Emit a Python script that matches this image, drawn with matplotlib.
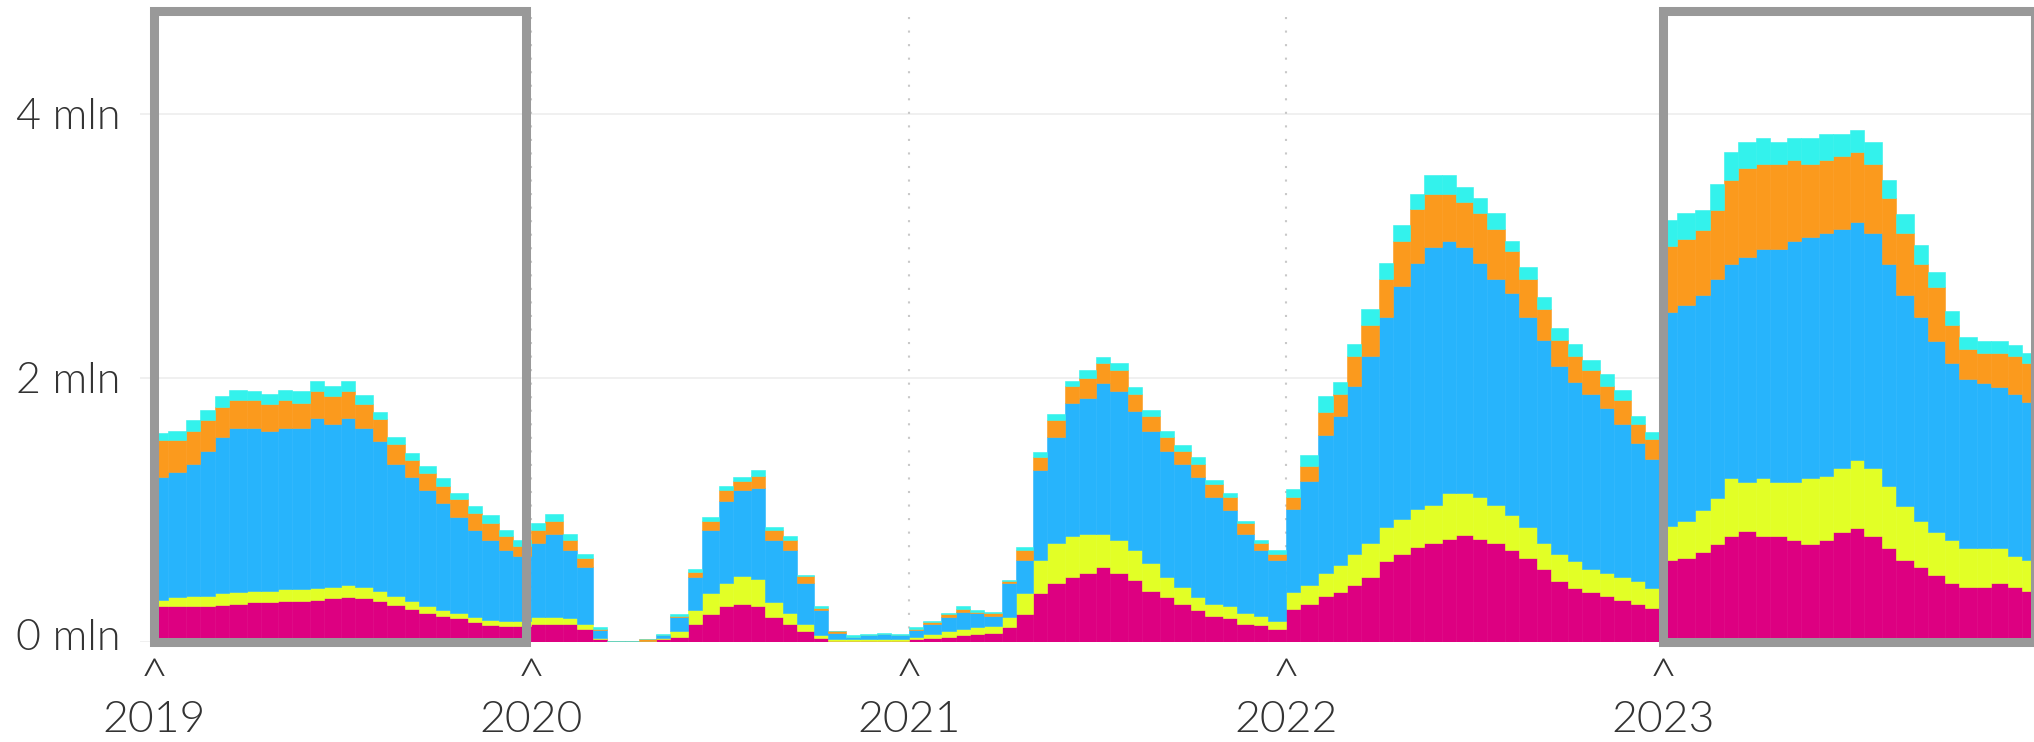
import numpy as np
import pandas as pd
import matplotlib
matplotlib.use("Agg")
import matplotlib.pyplot as plt
import matplotlib.dates as mdates
import matplotlib.transforms as mtransforms
from matplotlib.patches import Rectangle

# half-month periods (1st and 15th of each month), 2019 .. 2023, values in mln
periods = pd.date_range("2019-01-01", "2023-12-15", freq="SMS")

pink = [
    .27, .27, .27, .27, .28, .29, .30, .30, .31, .31, .32, .33, .34, .33, .31, .28, .25, .22, .20, .18, .15, .13, .12, .12,
    .14, .14, .14, .10, .02, .00, .00, .00, .02, .04, .14, .21, .27, .29, .27, .19, .14, .08, .03, .01, .01, .01, .01, .01,
    .02, .03, .04, .05, .06, .07, .11, .21, .37, .45, .49, .52, .57, .52, .47, .39, .34, .29, .24, .20, .18, .14, .13, .10,
    .25, .29, .35, .38, .43, .49, .61, .67, .72, .75, .78, .81, .78, .75, .70, .64, .55, .46, .41, .38, .35, .32, .29, .26,
    .62, .64, .68, .74, .80, .84, .80, .80, .77, .74, .77, .83, .86, .80, .71, .62, .57, .51, .45, .42, .42, .45, .42, .39,
]
yellow = [
    .05, .07, .08, .08, .09, .09, .09, .09, .09, .09, .09, .09, .09, .09, .08, .07, .06, .05, .04, .04, .04, .04, .04, .04,
    .05, .05, .04, .04, .01, .00, .00, .01, .01, .04, .10, .16, .18, .21, .21, .11, .08, .06, .02, .01, .01, .01, .01, .01,
    .02, .03, .04, .05, .05, .05, .08, .16, .25, .30, .31, .30, .25, .25, .23, .21, .15, .13, .10, .09, .09, .08, .07, .06,
    .13, .14, .17, .20, .24, .26, .26, .26, .29, .29, .35, .32, .32, .29, .26, .23, .20, .21, .20, .17, .17, .17, .17, .15,
    .26, .28, .32, .35, .44, .37, .44, .41, .44, .50, .49, .49, .52, .52, .47, .41, .35, .32, .32, .29, .29, .26, .23, .23,
]
blue = [
    .93, .95, 1.00, 1.10, 1.18, 1.24, 1.23, 1.21, 1.22, 1.22, 1.29, 1.23, 1.27, 1.20, 1.13, 1.00, .94, .88, .81, .73, .66, .60, .54, .49,
    .56, .63, .52, .43, .06, .01, .01, .00, .02, .11, .25, .48, .62, .65, .69, .47, .48, .31, .19, .05, .02, .03, .04, .03,
    .05, .08, .11, .13, .11, .08, .26, .25, .68, .80, 1.01, 1.03, 1.14, 1.13, 1.05, 1.00, .96, .93, .91, .81, .73, .60, .50, .46,
    .63, .79, 1.05, 1.13, 1.27, 1.42, 1.59, 1.77, 1.86, 1.95, 1.91, 1.86, 1.77, 1.71, 1.68, 1.59, 1.54, 1.42, 1.36, 1.33, 1.25, 1.16, 1.05, .98,
    1.62, 1.63, 1.63, 1.66, 1.62, 1.71, 1.74, 1.77, 1.83, 1.83, 1.84, 1.81, 1.80, 1.78, 1.68, 1.60, 1.54, 1.45, 1.34, 1.28, 1.25, 1.22, 1.23, 1.20,
]
orange = [
    .28, .24, .25, .23, .23, .21, .21, .20, .21, .19, .20, .21, .20, .18, .17, .15, .13, .13, .13, .13, .13, .13, .10, .08,
    .10, .10, .07, .07, .01, .00, .00, .01, .00, .01, .04, .07, .08, .07, .09, .08, .07, .05, .02, .01, .00, .00, .00, .00,
    .01, .01, .02, .02, .01, .02, .01, .08, .10, .13, .13, .15, .15, .16, .13, .11, .10, .10, .10, .10, .10, .08, .05, .05,
    .09, .11, .17, .17, .23, .23, .29, .34, .41, .40, .35, .34, .38, .38, .32, .29, .23, .20, .20, .18, .17, .18, .14, .15,
    .50, .50, .49, .52, .64, .67, .64, .64, .61, .55, .55, .55, .53, .52, .50, .47, .40, .41, .29, .23, .23, .26, .29, .29,
]
cyan = [
    .05, .07, .08, .08, .08, .08, .07, .08, .08, .09, .08, .08, .08, .07, .05, .05, .05, .05, .06, .05, .05, .06, .05, .04,
    .05, .05, .05, .03, .01, .00, .00, .00, .01, .01, .02, .03, .03, .03, .04, .02, .03, .01, .01, .00, .01, .01, .01, .01,
    .01, .01, .01, .02, .01, .01, .01, .02, .04, .05, .04, .06, .05, .05, .05, .05, .05, .04, .05, .03, .03, .02, .02, .03,
    .06, .09, .12, .09, .09, .12, .12, .12, .11, .15, .15, .12, .11, .12, .08, .09, .09, .09, .09, .08, .09, .08, .06, .05,
    .20, .20, .15, .20, .21, .20, .20, .17, .17, .20, .20, .17, .17, .17, .14, .14, .15, .11, .11, .09, .09, .09, .08, .08,
]

layers = [pink, yellow, blue, orange, cyan]
colors = ["#dd0081", "#e2ff26", "#27b4fc", "#fb9a1d", "#33f2ec"]

years = [2019, 2020, 2021, 2022, 2023]
highlight_years = [2019, 2023]
y_ticks = [0, 2, 4]

plt.rcParams["font.family"] = ["Lato", "DejaVu Sans"]
text_color = "#333333"

fig = plt.figure(figsize=(20.34, 7.42), dpi=100)
ax = fig.add_axes([140 / 2034, 100 / 742, 1894 / 2034, 631 / 742])

x = mdates.date2num(periods)
edges = np.append(x, mdates.date2num(pd.Timestamp("2024-01-01")))
widths = np.diff(edges)

bottom = np.zeros(len(x))
for vals, col in zip(layers, colors):
    vals = np.array(vals)
    ax.bar(x, vals, width=widths, bottom=bottom, align="edge",
           color=col, edgecolor=col, linewidth=0.4, zorder=2)
    bottom += vals

# axis ranges
x0 = mdates.date2num(pd.Timestamp("2019-01-01"))
px_per_day = 377 / 365.0
ax.set_xlim(x0 - 14 / px_per_day, x0 + (2034 - 154) / px_per_day)
ax.set_ylim(0, 4.78)

for s in ax.spines.values():
    s.set_visible(False)
ax.set_xticks([])
ax.set_yticks([])

# horizontal grid
for v in y_ticks:
    ax.axhline(v, color="#eeeeee", lw=1.2, zorder=1)

# dotted year separators
for yr in years[1:]:
    ax.axvline(mdates.date2num(pd.Timestamp(f"{yr}-01-01")), color="#c8c8c8",
               lw=1.5, linestyle=(0, (1, 5.5)), zorder=1)

# highlight boxes
for yr in highlight_years:
    a = mdates.date2num(pd.Timestamp(f"{yr}-01-01"))
    b = mdates.date2num(pd.Timestamp(f"{yr}-12-27"))
    ax.add_patch(Rectangle((a, 0), b - a, 4.78, fill=False, edgecolor="#999999",
                           lw=6.5, zorder=5, clip_on=False, joinstyle="miter"))

# y labels (the bottom one sits a little above the baseline)
tr_y = mtransforms.blended_transform_factory(fig.transFigure, ax.transData)
for v in y_ticks:
    tr = tr_y
    if v == 0:
        tr = tr_y + mtransforms.ScaledTranslation(0, 7 / 100, fig.dpi_scale_trans)
    ax.text(16 / 2034, v, f"{v} mln", transform=tr, ha="left", va="center_baseline",
            fontsize=31, color=text_color, fontweight=300)

# x labels with caret marks
tr_x = mtransforms.blended_transform_factory(ax.transData, fig.transFigure)
for yr in years:
    xd = mdates.date2num(pd.Timestamp(f"{yr}-01-01"))
    ax.text(xd, (742 - 680) / 742, "^", transform=tr_x, ha="center", va="center",
            fontsize=36, color=text_color, fontweight=300)
    ax.text(xd, (742 - 720) / 742, str(yr), transform=tr_x, ha="center", va="center",
            fontsize=32, color=text_color, fontweight=300)

fig.savefig("out.png", dpi=100)
